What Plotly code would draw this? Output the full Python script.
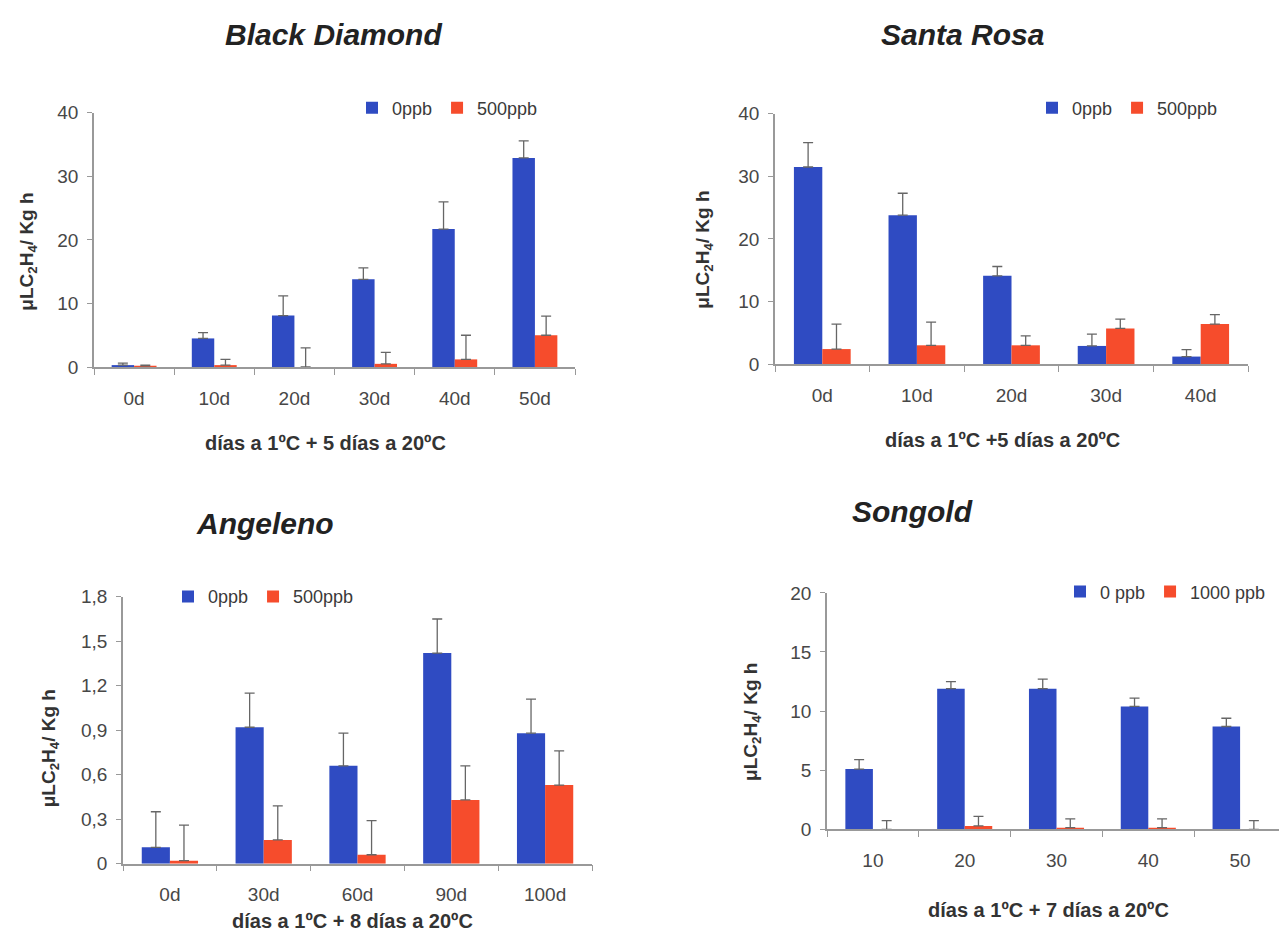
import plotly.graph_objects as go

# page body has an 8px margin -> compensate
M = 8
W, H = 1287 - M, 947 - M

# ---------------- data ----------------
bd_cats = ["0d", "10d", "20d", "30d", "40d", "50d"]
bd_0 = [0.3, 4.5, 8.1, 13.8, 21.7, 32.9]
bd_0_err = [0.3, 0.9, 3.1, 1.8, 4.3, 2.7]
bd_500 = [0.2, 0.3, 0.0, 0.5, 1.2, 5.0]
bd_500_err = [0.1, 0.9, 3.0, 1.8, 3.8, 3.0]

sr_cats = ["0d", "10d", "20d", "30d", "40d"]
sr_0 = [31.5, 23.8, 14.1, 2.9, 1.2]
sr_0_err = [3.9, 3.5, 1.5, 1.9, 1.1]
sr_500 = [2.4, 3.0, 3.0, 5.7, 6.4]
sr_500_err = [4.0, 3.7, 1.5, 1.5, 1.5]

an_cats = ["0d", "30d", "60d", "90d", "100d"]
an_0 = [0.11, 0.92, 0.66, 1.42, 0.88]
an_0_err = [0.24, 0.23, 0.22, 0.23, 0.23]
an_500 = [0.02, 0.16, 0.06, 0.43, 0.53]
an_500_err = [0.24, 0.23, 0.23, 0.23, 0.23]
an_tickvals = [0, 0.3, 0.6, 0.9, 1.2, 1.5, 1.8]
an_ticktext = ["0", "0,3", "0,6", "0,9", "1,2", "1,5", "1,8"]

sg_cats = ["10", "20", "30", "40", "50"]
sg_0 = [5.1, 11.9, 11.9, 10.4, 8.7]
sg_0_err = [0.8, 0.6, 0.8, 0.7, 0.7]
sg_1000 = [0.0, 0.3, 0.15, 0.15, 0.0]
sg_1000_err = [0.75, 0.8, 0.75, 0.75, 0.75]

titles = ["Black Diamond", "Santa Rosa", "Angeleno", "Songold"]
xtitles = ["días a 1ºC + 5 días a 20ºC", "días a 1ºC +5 días a 20ºC",
           "días a 1ºC + 8 días a 20ºC", "días a 1ºC + 7 días a 20ºC"]
ytitle = "μLC<sub>2</sub>H<sub>4</sub>/ Kg h"

BLUE = "#2f4bc2"
RED = "#f64c2c"
AXIS = "#999999"
TXT = "#474747"
FONT = "Liberation Sans, Arial, sans-serif"

# panel geometry in reference pixels: x0, x1, ytop, ybottom
panels = [
    dict(x0=94, x1=575, yt=105, yb=365, ymax=40, dtick=10),
    dict(x0=775, x1=1248, yt=106, yb=362, ymax=40, dtick=10),
    dict(x0=123, x1=592, yt=600, yb=873, ymax=1.8, dtick=0.3),
    dict(x0=827, x1=1286, yt=596, yb=838, ymax=20, dtick=5),
]
series = [
    (bd_cats, bd_0, bd_0_err, bd_500, bd_500_err, "0ppb", "500ppb", 0.28),
    (sr_cats, sr_0, sr_0_err, sr_500, sr_500_err, "0ppb", "500ppb", 0.30),
    (an_cats, an_0, an_0_err, an_500, an_500_err, "0ppb", "500ppb", 0.30),
    (sg_cats, sg_0, sg_0_err, sg_1000, sg_1000_err, "0 ppb", "1000 ppb", 0.30),
]
legend_pos = [(352, 100), (1032, 100), (168, 600), (1060, 595)]
title_pos = [(333, 25), (962, 25), (265, 525), (912, 513)]
xtitle_pos = [(325, 443), (1003, 440), (353, 932), (1048, 920)]
ytitle_pos = [(28, 247), (704, 245), (50, 755), (752, 728)]


def px(x):
    return (x - M) / W


def py(y):
    return 1 - (y - M) / H


fig = go.Figure()
layout = dict(
    width=W, height=H, margin=dict(l=0, r=0, t=0, b=0),
    paper_bgcolor="white", plot_bgcolor="white",
    barmode="group", showlegend=True,
    font=dict(family=FONT, size=18, color=TXT),
)
annotations = []

for i, (p, s) in enumerate(zip(panels, series)):
    cats, v0, e0, v1, e1, n0, n1, w = s
    k = "" if i == 0 else str(i + 1)
    xa, ya = "x" + k, "y" + k
    lg = "legend" + k
    for vals, errs, name, col, off in [(v0, e0, n0, BLUE, -w), (v1, e1, n1, RED, 0)]:
        fig.add_trace(go.Bar(
            x=cats, y=vals, name=name, marker=dict(color=col, line=dict(width=0)),
            width=w, offset=off, xaxis=xa, yaxis=ya, legend=lg,
            error_y=dict(type="data", symmetric=False, array=errs,
                         arrayminus=[0] * len(errs), color="#666666",
                         thickness=1.3, width=5),
        ))
    layout["xaxis" + k] = dict(
        domain=[px(p["x0"]), px(p["x1"])], anchor=ya, type="category",
        range=[-0.5, len(cats) - 0.5],
        showline=True, linecolor=AXIS, linewidth=1.5, ticks="outside",
        tickson="boundaries", ticklen=6, tickcolor=AXIS, showgrid=False,
        tickfont=dict(size=19, color=TXT), ticklabelstandoff=13, fixedrange=True,
    )
    yax = dict(
        domain=[py(p["yb"]), py(p["yt"])], anchor=xa, range=[0, p["ymax"]],
        dtick=p["dtick"], showline=True, linecolor=AXIS, linewidth=1.5,
        ticks="outside", ticklen=5, tickcolor=AXIS, showgrid=False, zeroline=False,
        tickfont=dict(size=19, color=TXT), ticklabelstandoff=5, fixedrange=True,
    )
    if i == 2:
        yax.update(tickmode="array", tickvals=an_tickvals, ticktext=an_ticktext)
    layout["yaxis" + k] = yax
    lx, ly = legend_pos[i]
    layout[lg] = dict(
        orientation="h", x=px(lx), y=py(ly), xanchor="left", yanchor="middle",
        font=dict(size=18, color="#3a3a3a"), bgcolor="rgba(0,0,0,0)",
        itemwidth=30, tracegroupgap=0,
    )
    tx, ty = title_pos[i]
    annotations.append(dict(
        text="<b><i>%s</i></b>" % titles[i], x=px(tx), y=py(ty),
        xref="paper", yref="paper", xanchor="center", yanchor="middle",
        showarrow=False, font=dict(size=30, color="#222222", family=FONT),
    ))
    xx, xy = xtitle_pos[i]
    annotations.append(dict(
        text="<b>%s</b>" % xtitles[i], x=px(xx), y=py(xy),
        xref="paper", yref="paper", xanchor="center", yanchor="middle",
        showarrow=False, font=dict(size=20, color="#333333"),
    ))
    yx, yy = ytitle_pos[i]
    annotations.append(dict(
        text="<b>%s</b>" % ytitle, x=px(yx), y=py(yy),
        xref="paper", yref="paper", xanchor="center", yanchor="middle",
        showarrow=False, textangle=-90, font=dict(size=19, color="#333333"),
    ))

layout["annotations"] = annotations
fig.update_layout(**layout)
fig.write_html("out.html")
